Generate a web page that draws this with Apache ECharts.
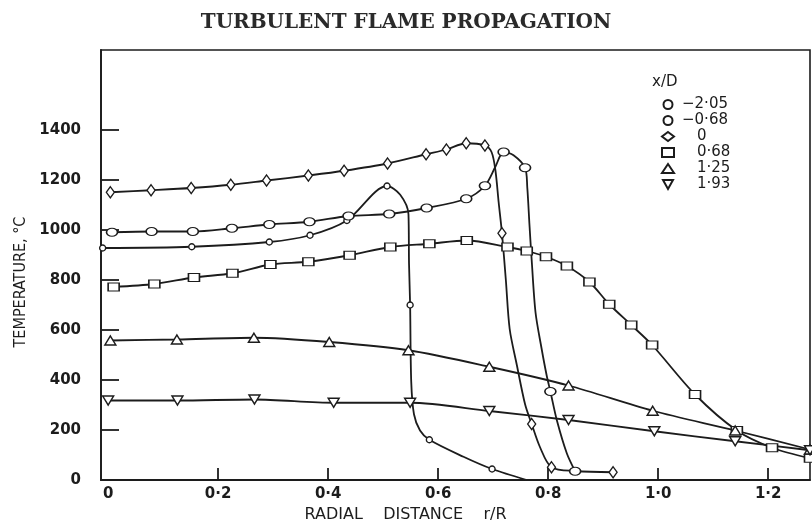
<!doctype html>
<html lang="en">
<head>
    <meta charset="UTF-8">
    <title>Turbulent flame propagation</title>
    <script type="text/javascript" src="https://cdn.jsdelivr.net/npm/echarts@6.0.0/dist/echarts.min.js"></script>
    <style>
        html, body { margin: 0; padding: 0; background: #fff; }
        #chart { width: 812px; height: 528px; }
    </style>
</head>
<body>
<div id="chart"></div>
<script>
    // tick labels
    var xTicks = [0, 0.2, 0.4, 0.6, 0.8, 1.0, 1.2];
    var yTicks = [0, 200, 400, 600, 800, 1000, 1200, 1400];
    var seriesNames = ['−2·05', '−0·68', '0', '0·68', '1·25', '1·93'];

    var ptsA = [[-0.01, 928], [0.152, 933], [0.293, 952], [0.367, 979], [0.434, 1038], [0.507, 1176], [0.549, 700], [0.584, 161], [0.698, 44]];
    var ptsB = [[0.007, 991], [0.079, 994], [0.154, 994], [0.225, 1007], [0.293, 1022], [0.366, 1033], [0.437, 1056], [0.511, 1064], [0.579, 1088], [0.651, 1125], [0.685, 1177], [0.719, 1312], [0.758, 1249], [0.804, 354], [0.849, 35]];
    var ptsC = [[0.004, 1151], [0.078, 1159], [0.151, 1168], [0.223, 1181], [0.288, 1198], [0.364, 1218], [0.429, 1237], [0.508, 1266], [0.578, 1303], [0.615, 1322], [0.651, 1347], [0.685, 1338], [0.716, 987], [0.770, 224], [0.806, 51], [0.918, 31]];
    var ptsD = [[0.010, 772], [0.084, 784], [0.156, 810], [0.226, 827], [0.295, 862], [0.364, 873], [0.439, 899], [0.513, 932], [0.584, 945], [0.652, 958], [0.726, 932], [0.761, 916], [0.796, 893], [0.834, 856], [0.875, 792], [0.911, 703], [0.951, 620], [0.989, 540], [1.067, 342], [1.143, 198], [1.207, 129], [1.276, 87]];
    var ptsE = [[0.004, 558], [0.125, 562], [0.265, 569], [0.402, 552], [0.546, 519], [0.693, 453], [0.837, 378], [0.990, 277], [1.140, 198], [1.276, 122]];
    var ptsF = [[0.0, 318], [0.126, 318], [0.266, 322], [0.41, 309], [0.549, 309], [0.693, 276], [0.837, 240], [0.993, 195], [1.140, 155], [1.276, 119]];

    // extra points along the drawn curves (no marker)
    var curveA = [[0.531, 1141], [0.546, 1063], [0.547, 866], [0.551, 394], [0.556, 263], [0.567, 198], [0.646, 93], [0.761, 0]];
    var curveB = [[0.704, 1253], [0.737, 1299], [0.762, 1170], [0.766, 1020], [0.770, 880], [0.777, 670], [0.788, 526], [0.797, 421], [0.816, 237], [0.834, 106]];
    var curveC = [[0.697, 1312], [0.704, 1240], [0.710, 1110], [0.723, 801], [0.730, 604], [0.743, 460], [0.758, 303], [0.785, 132], [0.850, 36]];
    var curveD = [];
    var curveE = [];
    var curveF = [];

    var allPts = [ptsA, ptsB, ptsC, ptsD, ptsE, ptsF];
    var allCurves = [curveA, curveB, curveC, curveD, curveE, curveF];

    var ink = '#1c1c1c';
    var symbols = ['circle', 'circle', 'diamond', 'rect', 'triangle', 'path://M0,0 L10,0 L5,9 Z'];
    var symbolSizes = [6, [11, 8], [8, 11], [11, 8], [11, 9], [11, 9]];

    var chart = echarts.init(document.getElementById('chart'));

    var series = [];
    allPts.forEach(function (pts, i) {
        var line = pts.concat(allCurves[i]).sort(function (a, b) { return a[0] - b[0]; });
        series.push({
            name: seriesNames[i] + ' curve',
            type: 'line',
            data: line,
            smooth: 0.3,
            symbol: 'none',
            silent: true,
            lineStyle: { color: ink, width: 1.8 },
            z: 2
        });
        series.push({
            name: seriesNames[i],
            type: 'scatter',
            data: pts,
            symbol: symbols[i],
            symbolSize: symbolSizes[i],
            itemStyle: { color: '#fff', borderColor: ink, borderWidth: 1.4, opacity: 1 },
            z: 3
        });
    });

    chart.setOption({
        animation: false,
        backgroundColor: '#fff',
        title: {
            text: 'TURBULENT FLAME PROPAGATION',
            left: 'center',
            top: 8,
            textStyle: { fontFamily: 'DejaVu Serif', fontWeight: 'bold', fontSize: 20, color: '#2a2a2a' }
        },
        grid: {
            left: 101, right: 2, top: 50, bottom: 41,
            show: true, borderColor: ink, borderWidth: 1.6
        },
        legend: {
            data: seriesNames,
            orient: 'vertical',
            left: 656,
            top: 92,
            itemWidth: 12,
            itemHeight: 9,
            itemGap: 1,
            formatter: function (name) {
                return name.charAt(0) === '−' ? name : '\u2003' + name;
            },
            textStyle: { fontFamily: 'DejaVu Sans', fontSize: 15, lineHeight: 15, color: ink, padding: [0, 0, 0, 3] }
        },
        graphic: [{
            type: 'text',
            left: 652,
            top: 75,
            style: { text: 'x/D', font: '15px "DejaVu Sans"', fill: ink }
        }],
        xAxis: {
            type: 'value',
            min: -0.013,
            max: 1.276,
            name: 'RADIAL    DISTANCE    r/R',
            nameLocation: 'middle',
            nameGap: 27,
            nameTextStyle: { fontFamily: 'DejaVu Sans', fontSize: 16, color: ink, padding: [0, 100, 0, 0] },
            axisLine: { onZero: false, lineStyle: { color: ink, width: 1.8 } },
            axisTick: { inside: true, length: 12, customValues: xTicks.slice(1), lineStyle: { color: ink, width: 1.8 } },
            axisLabel: {
                customValues: xTicks,
                margin: 7,
                fontFamily: 'DejaVu Sans', fontWeight: 'bold', fontSize: 15, color: ink,
                formatter: function (v) { return v === 0 ? '0' : v.toFixed(1).replace('.', '·'); }
            },
            splitLine: { show: false }
        },
        yAxis: {
            type: 'value',
            min: 0,
            max: 1720,
            name: 'TEMPERATURE, °C',
            nameLocation: 'middle',
            nameGap: 58,
            nameTextStyle: { fontFamily: 'DejaVu Sans Condensed', fontSize: 16, color: ink, padding: [0, 34, 0, 0] },
            axisLine: { onZero: false, lineStyle: { color: ink, width: 1.8 } },
            axisTick: { inside: true, length: 18, customValues: yTicks.slice(1), lineStyle: { color: ink, width: 1.8 } },
            axisLabel: {
                customValues: yTicks,
                margin: 20,
                fontFamily: 'DejaVu Sans', fontWeight: 'bold', fontSize: 15, color: ink,
                formatter: function (v) { return String(v); }
            },
            splitLine: { show: false }
        },
        series: series
    });
</script>
</body>
</html>
